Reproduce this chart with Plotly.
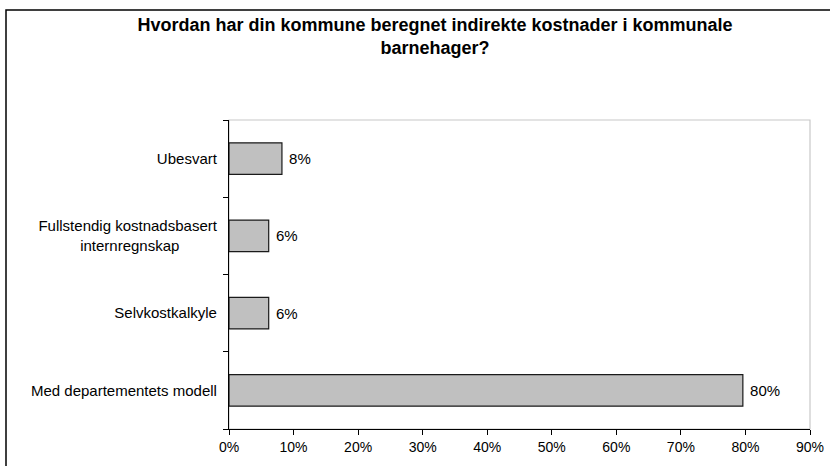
import plotly.graph_objects as go

# Data (bottom to top)
categories = [
    "Med departementets modell",
    "Selvkostkalkyle",
    "Fullstendig kostnadsbasert<br>internregnskap",
    "Ubesvart",
]
values = [79.6, 6.15, 6.15, 8.2]
x_tickvals = [0, 10, 20, 30, 40, 50, 60, 70, 80, 90]
x_ticktext = [f"{v}%" for v in x_tickvals]
title_text = "Hvordan har din kommune beregnet indirekte kostnader i kommunale<br>barnehager?"

FONT = "Liberation Sans, Arial, sans-serif"
W, H = 830, 466
ML, MR, MT, MB = 229, 20, 120, 37


def center_lines(label):
    """Pad shorter lines of a multi-line label so they look centred
    when the tick labels are right-aligned."""
    lines = label.split("<br>")
    longest = max(len(l) for l in lines)
    out = []
    for l in lines:
        n = round((longest - len(l)) * 0.75)
        out.append(l + "\u00a0" * n)
    return "<br>".join(out)


y_ticktext = [center_lines(c) for c in categories]

fig = go.Figure(
    go.Bar(
        x=values,
        y=categories,
        orientation="h",
        marker=dict(color="#c0c0c0", line=dict(color="#1a1a1a", width=1.2)),
        texttemplate="\u00a0%{x:.0f}%",
        textposition="outside",
        textfont=dict(family=FONT, size=15, color="#000"),
        cliponaxis=False,
        hoverinfo="skip",
    )
)

pw = W - ML - MR
ph = H - MT - MB

fig.update_layout(
    width=W,
    height=H,
    autosize=False,
    margin=dict(l=ML, r=MR, t=MT, b=MB, autoexpand=False),
    paper_bgcolor="white",
    plot_bgcolor="white",
    showlegend=False,
    bargap=0.59,
    title=dict(
        text=f"<b>{title_text}</b>",
        font=dict(family=FONT, size=18, color="#000"),
        x=435 / W,
        xref="container",
        xanchor="center",
        y=1 - 31 / H,
        yref="container",
        yanchor="top",
    ),
    shapes=[
        # outer chart border
        dict(
            type="rect", xref="paper", yref="paper",
            x0=(6 - ML) / pw, x1=(W + 10 - ML) / pw,
            y0=-(H + 10 - (H - MB)) / ph, y1=((H - MB) - 10) / ph,
            line=dict(color="#000", width=1.5), layer="below",
        ),
        # plot area border (light gray)
        dict(
            type="rect", xref="paper", yref="paper",
            x0=0, x1=1, y0=0, y1=1,
            line=dict(color="#c8c8c8", width=1.2), layer="below",
        ),
    ],
)

fig.update_xaxes(
    range=[0, 90],
    tickvals=x_tickvals,
    ticktext=x_ticktext,
    showgrid=False,
    zeroline=False,
    showline=True,
    linecolor="#000",
    linewidth=1.2,
    ticks="outside",
    ticklen=5,
    tickcolor="#000",
    tickfont=dict(family=FONT, size=14, color="#000"),
    automargin=False,
    fixedrange=True,
)
fig.update_yaxes(
    type="category",
    tickvals=categories,
    ticktext=y_ticktext,
    tickson="boundaries",
    showgrid=False,
    zeroline=False,
    showline=True,
    linecolor="#000",
    linewidth=1.2,
    ticks="outside",
    ticklen=5,
    tickcolor="#000",
    tickfont=dict(family=FONT, size=15, color="#000"),
    ticklabelstandoff=8,
    automargin=False,
    fixedrange=True,
)

fig.write_html(
    "out.html",
    config={"displayModeBar": False, "responsive": False},
    post_script="document.body.style.margin='0';document.body.style.overflow='hidden';",
)
